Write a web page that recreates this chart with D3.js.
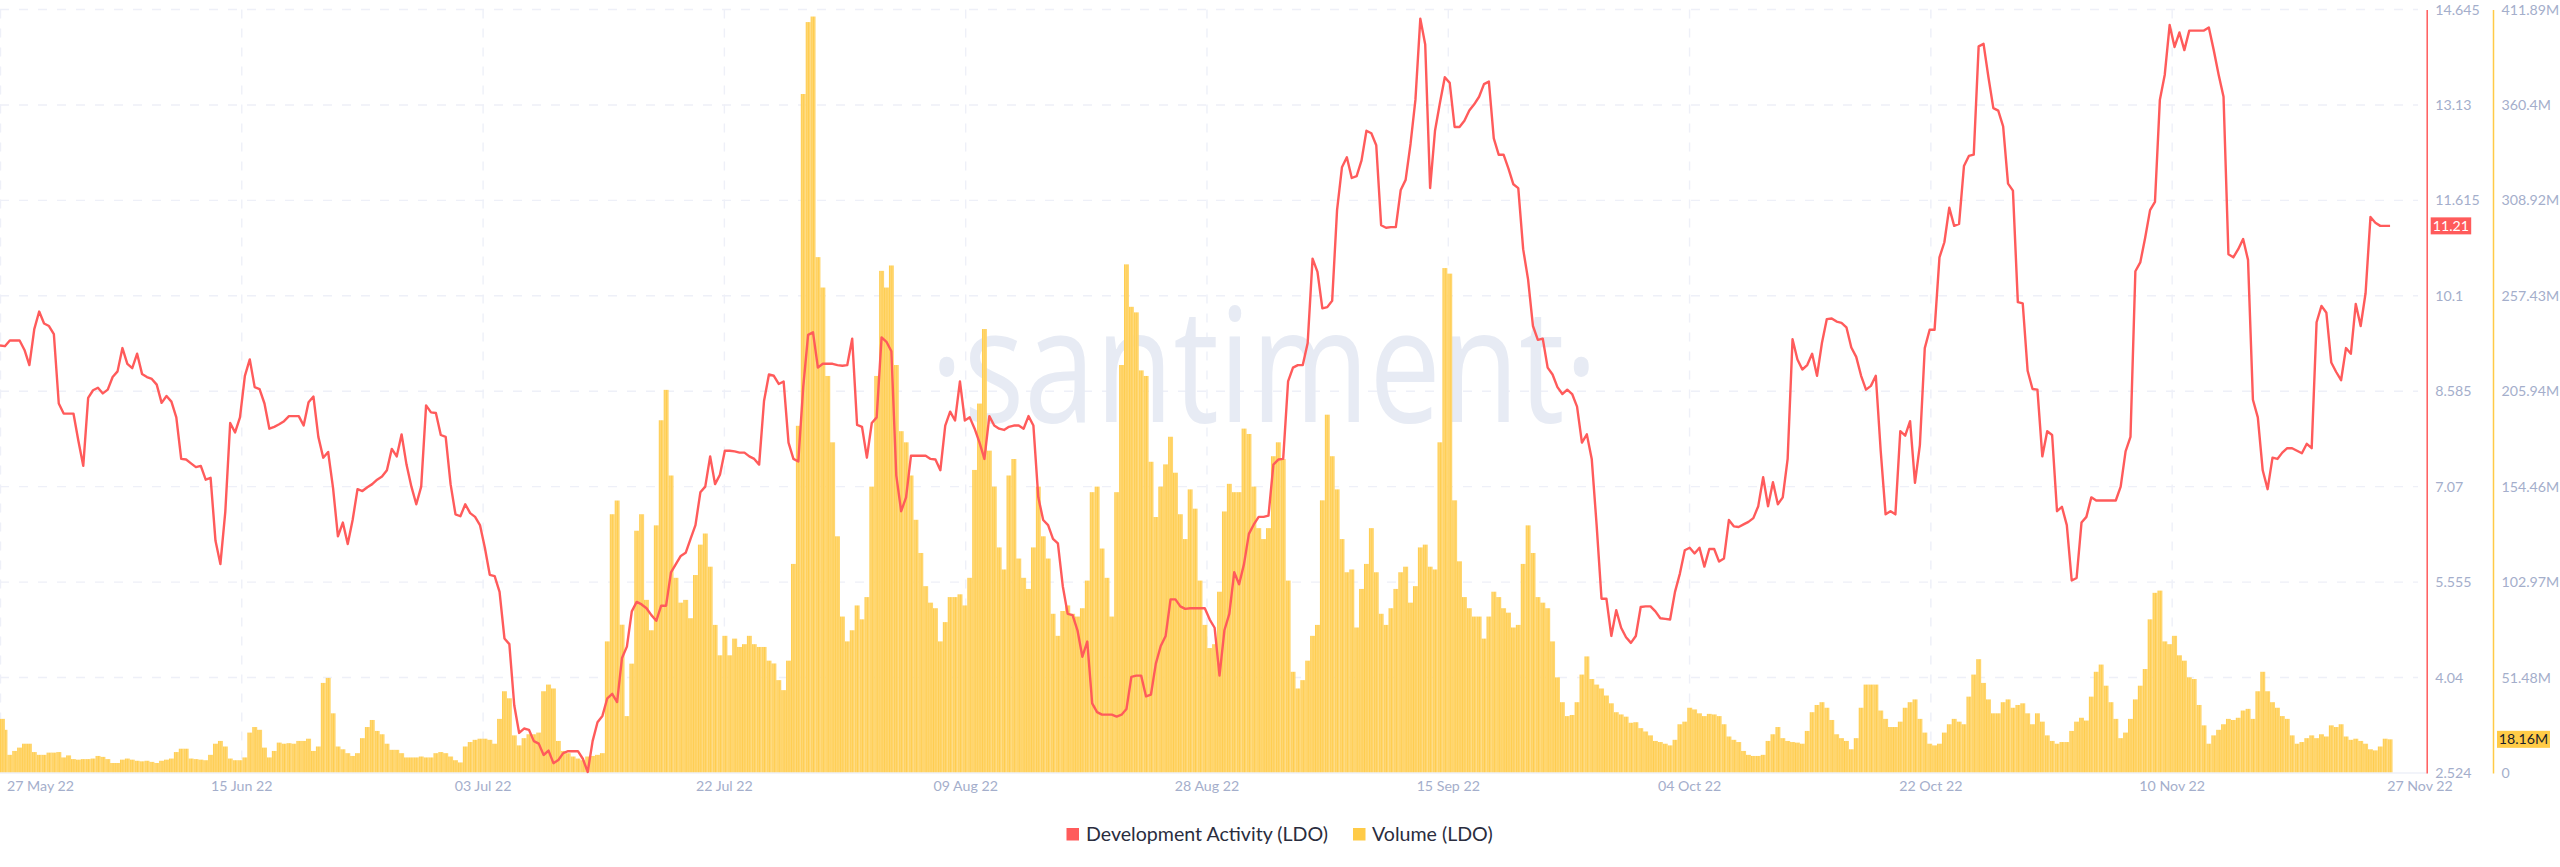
<!DOCTYPE html>
<html><head><meta charset="utf-8">
<script src="https://cdnjs.cloudflare.com/ajax/libs/d3/7.8.5/d3.min.js"></script>
<style>html,body{margin:0;padding:0;background:#fff;overflow:hidden}svg{display:block}</style>
</head><body><svg id="c" width="2560" height="867"></svg>
<script>
const tickLabels=["27 May 22","15 Jun 22","03 Jul 22","22 Jul 22","09 Aug 22","28 Aug 22","15 Sep 22","04 Oct 22","22 Oct 22","10 Nov 22","27 Nov 22"];
const tickDays=[0,18.5,37,55.5,74,92.5,111,129.5,148,166.5,185.5];
const devTicks=[2.524,4.04,5.555,7.07,8.585,10.1,11.615,13.13,14.645];
const volTicks=[0,51.48,102.97,154.46,205.94,257.43,308.92,360.4,411.89];
const sampleStepDays=0.3755;
const devValues=[
9.31,9.30,9.39,9.39,9.39,9.24,9.0,9.57,9.85,9.66,9.62,9.49,8.39,8.23,8.23,8.23,7.8,7.4,8.48,8.6,8.64,8.55,8.61,8.81,8.9,9.27,9.02,8.95,9.18,8.86,8.81,8.78,8.69,8.4,8.51,8.42,8.17,7.51,7.5,7.44,7.38,7.4,7.18,7.21,6.21,5.84,6.67,8.08,7.93,8.17,8.83,9.09,8.65,8.62,8.39,7.99,8.02,8.06,8.11,8.19,8.19,8.19,8.04,8.41,8.5,7.86,7.53,7.62,7.05,6.28,6.5,6.16,6.54,7.03,7.0,7.06,7.11,7.18,7.23,7.33,7.67,7.55,7.9,7.42,7.07,6.79,7.07,8.36,8.25,8.24,7.89,7.86,7.11,6.63,6.6,6.79,6.65,6.59,6.46,6.1,5.67,5.65,5.4,4.66,4.57,3.6,3.16,3.23,3.21,3.03,2.99,2.81,2.88,2.68,2.73,2.84,2.87,2.87,2.87,2.75,2.54,3.03,3.33,3.43,3.71,3.78,3.65,4.35,4.53,5.09,5.24,
5.2,5.14,5.03,4.94,5.18,5.18,5.71,5.84,5.97,6.02,6.24,6.46,6.98,7.07,7.55,7.11,7.26,7.64,7.64,7.63,7.61,7.61,7.55,7.51,7.42,8.43,8.85,8.83,8.7,8.74,7.77,7.51,7.47,8.65,9.48,9.52,8.96,9.02,9.02,9.02,9.0,8.99,9.0,9.42,8.05,8.02,7.53,8.08,8.17,9.44,9.37,9.22,7.25,6.68,6.9,7.56,7.56,7.56,7.56,7.51,7.5,7.33,8.04,8.26,8.12,8.74,8.12,8.17,7.99,7.77,7.51,8.19,8.04,7.99,7.97,8.02,8.04,8.04,7.99,8.19,8.04,6.9,6.54,6.46,6.24,6.17,5.49,5.05,5.03,4.79,4.37,4.61,3.63,3.49,3.45,3.45,3.45,3.42,3.45,3.54,4.05,4.07,4.07,3.74,3.77,4.26,4.54,4.7,5.28,5.28,5.17,5.13,5.14,5.14,5.14,5.14,4.96,4.83,4.07,4.79,5.05,5.71,5.52,5.84,6.32,6.47,6.59,6.59,6.61,7.42,7.5,
7.51,8.74,8.96,9.0,9.0,9.35,10.69,10.48,9.9,9.92,10.02,11.46,12.14,12.3,11.97,12.0,12.25,12.72,12.68,12.49,11.22,11.18,11.19,11.19,11.78,11.94,12.51,13.21,14.5,14.09,11.81,12.72,13.16,13.57,13.48,12.78,12.78,12.88,13.04,13.14,13.26,13.46,13.5,12.6,12.34,12.34,12.12,11.87,11.81,10.84,10.36,9.62,9.4,9.42,8.96,8.85,8.65,8.54,8.61,8.54,8.34,7.77,7.9,7.51,6.46,5.29,5.29,4.7,5.11,4.83,4.68,4.59,4.7,5.16,5.17,5.17,5.09,4.98,4.97,4.96,5.4,5.69,6.06,6.1,6.01,6.1,5.8,6.08,6.08,5.88,5.93,6.54,6.44,6.43,6.47,6.51,6.57,6.76,7.22,6.76,7.14,6.79,6.9,7.51,9.41,9.09,8.93,9.0,9.18,8.83,9.35,9.73,9.74,9.69,9.67,9.6,9.28,9.13,8.83,8.61,8.67,8.83,7.64,6.63,6.68,6.63,7.95,7.88,8.11,7.13,
7.73,9.27,9.56,9.56,10.71,10.95,11.5,11.21,11.24,12.16,12.32,12.34,14.06,14.1,13.57,13.08,13.04,12.79,11.88,11.77,10.0,9.98,8.91,8.62,8.61,7.55,7.95,7.89,6.68,6.75,6.46,5.58,5.62,6.5,6.59,6.9,6.85,6.85,6.85,6.85,6.85,7.07,7.63,7.86,10.49,10.63,11.02,11.46,11.59,13.21,13.61,14.4,14.05,14.28,14.0,14.31,14.31,14.31,14.31,14.36,14.0,13.61,13.26,10.76,10.71,10.84,11.0,10.67,8.45,8.17,7.33,7.03,7.53,7.51,7.61,7.68,7.68,7.64,7.6,7.75,7.68,9.68,9.94,9.83,9.04,8.89,8.76,9.27,9.18,9.97,9.62,10.14,11.35,11.26,11.21,11.21,11.21];
const volValues=[
29.2,23.3,9.8,11.9,13.7,15.8,15.8,11.3,9.8,9.8,11,11,11.3,8.4,9.5,7.5,7.2,7.5,7.5,7.8,9.2,8.7,7.5,5.4,5.4,7.2,7.8,7.2,6.6,6.3,6.6,6,5.4,6.6,7.2,7.8,11.3,13.1,13.1,7.8,7.5,7.2,6.9,9.8,15.8,17.3,14.3,7.8,6.9,6.9,8.4,21.8,24.8,23.3,13.7,8.4,11.9,16.4,15.8,16.1,15.8,17.3,17.3,18.5,11.9,14.3,48.6,51.3,32.2,14.3,12.8,10.7,9.2,10.7,18.8,24.8,28.6,22.7,20.9,15.8,12.5,12.5,10.7,8.4,8.4,8.4,8.9,8.4,8.4,10.7,11.3,10.7,8.9,6.9,5.7,14.3,16.7,17.9,18.5,18.5,17.9,15.8,29.2,44.1,40.3,20.3,14.9,18.8,20.9,20.9,21.8,44.1,47.7,45.6,17.3,11.9,10.7,8.9,7.8,6.9,8.9,9.2,9.8,10.7,71,139.6,147,80,30.7,59,130.7,
139.6,93.4,77,133.6,190.3,206.7,160.5,105.3,91.9,93.4,83.5,106.8,123.2,129.2,111.3,79.9,63.5,74,63.5,72.5,68,69.5,74,69.5,68,68,60.6,59.1,50.1,44.7,60.6,112.8,187.3,366.3,405.1,408.1,278.3,261.9,214.2,178.4,127.7,84.4,71,77,90.4,82.9,94.9,154.5,214.2,270.9,261.9,273.8,220.1,184.4,178.4,160.5,136.6,118.7,100.8,91.9,88.9,71,81.4,94.9,94.9,96.4,90.4,105.3,163.5,199.3,239.5,173.9,154.5,121.7,109.8,160.5,169.4,115.7,105.3,99.3,121.7,154.5,127.7,115.7,85.9,74,87.4,90.4,85.9,84.4,88.9,103.8,151.5,154.5,121.1,105.3,84.4,151.5,220.1,274.4,251.5,248.5,217.2,214.2,167.9,138.1,154.5,166.5,181.4,162,139.6,126.2,153,142.6,103.8,79.9,67.4,69.5,97.8,141.1,156,151.5,151.5,185.8,182.9,154.5,132.1,126.2,132.1,170.9,178.4,
169.4,103.8,54.6,45.6,50.1,60.6,74,79.9,147.1,193.3,170.9,153,126.2,108.3,109.8,78.5,99.3,112.8,132.1,108.3,85.9,79.9,88.9,99.3,108.3,111.3,91.9,100.8,121.7,123.2,111.3,109.8,178.4,272.4,269.4,147.1,114.2,94.9,88.9,84.4,84.4,72.5,84.4,97.8,94.9,88.9,86.5,78.5,79.9,112.8,133.6,118.7,94.9,91.9,88.9,71,51.6,38.2,30.7,31.3,38.2,53.1,62.9,50.7,47.7,45.6,41.8,37.6,32.8,31.6,30.4,27.1,27.4,24.2,22.4,20.3,17.3,16.7,15.8,14.9,17.9,26.3,27.7,35.2,34.3,32.2,30.7,31.9,31.6,30.7,26.3,19.7,17.9,16.7,11.9,9.8,9.2,9.2,9.8,17.3,20.9,24.8,18.8,17.3,16.7,16.4,15.8,22.7,32.8,36.7,38.2,35.2,28.6,20.9,18.8,17.3,12.8,18.8,35.2,47.7,47.7,47.7,33.7,29.2,24.8,24.8,27.7,35.2,38.2,39.7,
29.2,21.8,15.8,14.9,15.8,21.8,26.3,29.2,27.7,26.3,41.2,53.1,61.4,48.6,39.7,32.2,32.2,38.2,39.7,35.2,36.7,37.6,32.2,26.3,32.2,27.7,20.3,17.3,15.8,16.7,16.7,22.7,27.7,29.8,28.3,41.2,54.6,58.5,47.1,38.2,29.2,18.8,21.8,29.2,39.7,47.1,56.1,82.9,97.2,98.4,71,69.5,74,63.5,60.6,51.6,50.7,36.7,25.7,15.8,20.3,23.3,26.3,29.2,28.6,29.8,33.7,34.6,29.2,44.1,54.6,44.1,38.2,35.2,30.7,29.2,20.3,15.8,16.7,18.8,20.3,18.8,20.9,19.7,25.7,24.8,26.3,19.7,17.9,18.5,17.3,15.8,12.8,12.2,14.3,18.5,18.16];
const lastDev=11.21, lastVol=18.16;
const devName="Development Activity (LDO)", volName="Volume (LDO)", wm="\u00B7santiment\u00B7";
const RED="#FF5B5B", YEL="#FFCB47", GRID="#EEF0F8", TXT="#A4AECB";
const svg=d3.select("#c");
const top_=9.5,bot=773,axR=2426.7,axV=2493;
const x=d3.scaleLinear().domain([0,186]).range([0,2426]);
const yD=d3.scaleLinear().domain([2.524,14.645]).range([bot,top_]);
const yV=d3.scaleLinear().domain([0,411.89]).range([bot,top_]);
const font="Lato, 'Open Sans', sans-serif";
// bar stripe texture
const pat=svg.append("defs").append("pattern").attr("id","stripes").attr("patternUnits","userSpaceOnUse").attr("width",2.449).attr("height",10);
pat.append("rect").attr("width",2.449).attr("height",10).attr("fill","#FFD670");
pat.append("rect").attr("width",0.55).attr("height",10).attr("fill","#FFC93F");
// grid
const g=svg.append("g").attr("stroke",GRID).attr("stroke-width",1.4).attr("stroke-dasharray","9 10").attr("fill","none");
g.selectAll("line.h").data(devTicks.slice(1)).join("line").attr("x1",0).attr("x2",2418).attr("y1",d=>yD(d)).attr("y2",d=>yD(d));
g.selectAll("line.v").data(tickDays.slice(0,-1)).join("line").attr("x1",d=>x(d)+0.5).attr("x2",d=>x(d)+0.5).attr("y1",top_).attr("y2",bot);
// watermark
svg.append("text").attr("x",1264).attr("y",422).attr("text-anchor","middle").attr("font-family","'Open Sans'").attr("font-weight",400).attr("font-size",159).attr("textLength",668).attr("lengthAdjust","spacingAndGlyphs").attr("fill","#E7EBF4").text(wm);
// bars
const bw=x(sampleStepDays)-x(0);
svg.append("g").attr("fill","url(#stripes)").selectAll("rect").data(volValues).join("rect")
 .attr("x",(d,i)=>Math.max(0,x(i*sampleStepDays)-bw/2)).attr("width",bw+0.05).attr("y",d=>yV(d)).attr("height",d=>bot-yV(d));
// baseline
svg.append("line").attr("x1",0).attr("x2",axR).attr("y1",bot).attr("y2",bot).attr("stroke",GRID).attr("stroke-width",1.5);
// line
const ln=d3.line().x((d,i)=>x(i*sampleStepDays)).y(d=>yD(d));
svg.append("path").datum(devValues).attr("d",ln).attr("fill","none").attr("stroke",RED).attr("stroke-width",2.4).attr("stroke-linejoin","round");
// axes
function sty(a){a.selectAll("text").attr("fill",TXT).attr("font-family",font).attr("font-size",14.2);a.selectAll(".tick line").remove();a.attr("font-family",font);}
const aD=svg.append("g").attr("transform",`translate(${axR},0)`).call(d3.axisRight(yD).tickValues(devTicks).tickFormat(d=>String(d)).tickSize(0).tickPadding(8.5));
sty(aD);aD.select(".domain").attr("stroke",RED).attr("stroke-width",1.5);
const aV=svg.append("g").attr("transform",`translate(${axV},0)`).call(d3.axisRight(yV).tickValues(volTicks).tickFormat(d=>d?d+"M":"0").tickSize(0).tickPadding(8.5));
sty(aV);aV.select(".domain").attr("stroke",YEL).attr("stroke-width",1.5);
const aX=svg.append("g").attr("transform",`translate(0,${bot})`).call(d3.axisBottom(x).tickValues(tickDays).tickFormat((d,i)=>tickLabels[i]).tickSize(0).tickPadding(8));
sty(aX);aX.select(".domain").remove();
aX.selectAll("text").filter((d,i)=>i===0).attr("text-anchor","start").attr("x",6.5);
// badges
function badge(xx,w,val,str,col,tc,yy){const cy=yy(val);
 svg.append("rect").attr("x",xx).attr("y",cy-8.5).attr("width",w).attr("height",17).attr("fill",col);
 svg.append("text").attr("x",xx+w/2).attr("y",cy).attr("dy","0.35em").attr("text-anchor","middle").attr("font-family",font).attr("font-size",14.2).attr("fill",tc).text(str);}
badge(2430.7,40.5,lastDev,String(lastDev),RED,"#fff",yD);
badge(2497,53,lastVol,lastVol+"M",YEL,"#1a1d2b",yV);
// legend
const lg=svg.append("g").attr("font-family",font).attr("font-size",19.6).attr("fill","#2a2d3e");
lg.append("rect").attr("x",1066.5).attr("y",828).attr("width",12.5).attr("height",12.5).attr("fill",RED);
lg.append("text").attr("x",1086).attr("y",834).attr("dy","0.35em").text(devName);
lg.append("rect").attr("x",1353).attr("y",828).attr("width",12.5).attr("height",12.5).attr("fill",YEL);
lg.append("text").attr("x",1372).attr("y",834).attr("dy","0.35em").text(volName);
</script></body></html>
